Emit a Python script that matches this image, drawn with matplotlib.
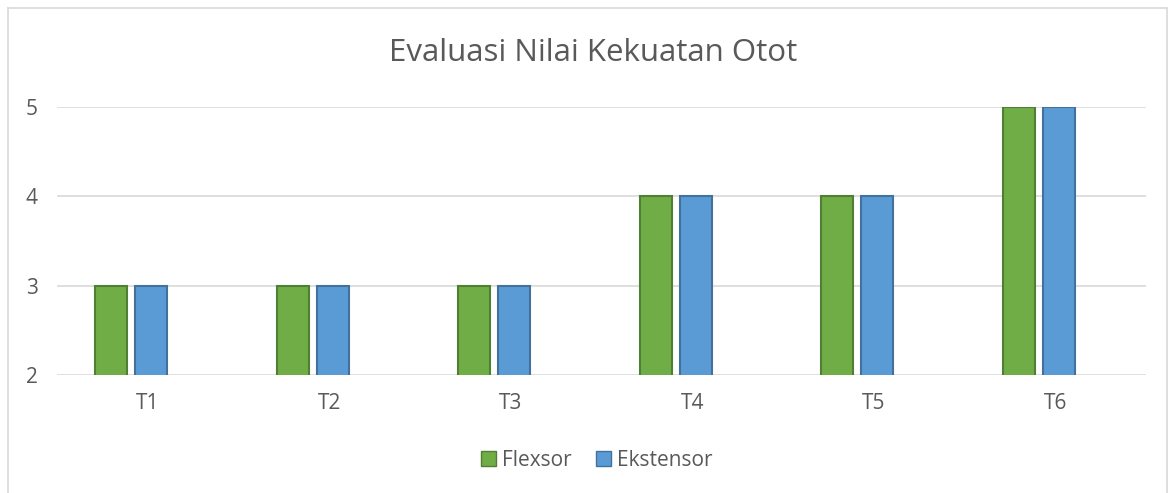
import matplotlib
matplotlib.use("Agg")
import matplotlib.pyplot as plt
import numpy as np
from matplotlib.patches import Patch
from matplotlib.lines import Line2D

categories = ["T1", "T2", "T3", "T4", "T5", "T6"]
flexsor = [3, 3, 3, 4, 4, 5]
ekstensor = [3, 3, 3, 4, 4, 5]
yticks = [2, 3, 4, 5]
title = "Evaluasi Nilai Kekuatan Otot"

plt.rcParams['font.family'] = ['Open Sans', 'DejaVu Sans']
txt = "#595959"

fig = plt.figure(figsize=(11.75, 4.93), dpi=100)
ax = fig.add_axes([57/1175, 1-375/493, (1146-57)/1175, (375-107)/493])

x = np.arange(len(categories))
w = 0.177
ax.bar(x - 0.201, flexsor, width=w, bottom=0, color="#70AD47", edgecolor="#507E32", linewidth=1.5, zorder=3)
ax.bar(x + 0.019, ekstensor, width=w, bottom=0, color="#5B9BD5", edgecolor="#41719C", linewidth=1.5, zorder=3)

ax.set_xlim(-0.5, len(categories) - 0.5)
ax.set_ylim(2, 5)
ax.set_yticks(yticks)
ax.set_xticks(x)
ax.set_xticklabels(categories)
ax.tick_params(length=0, labelsize=15, colors=txt)
ax.tick_params(axis='y', pad=14)
ax.tick_params(axis='x', pad=13)
ax.grid(axis='y', color="#D9D9D9", linewidth=1.2, zorder=0)
for s in ax.spines.values():
    s.set_visible(False)

fig.text(0.505, 1-53/493, title, ha='center', va='center', fontsize=22.5, color=txt)

handles = [Patch(facecolor="#70AD47", edgecolor="#507E32", label="Flexsor"),
           Patch(facecolor="#5B9BD5", edgecolor="#41719C", label="Ekstensor")]
fig.legend(handles=handles, loc='center', bbox_to_anchor=(0.508, 1-460/493), ncol=2, frameon=False,
           fontsize=15, handlelength=0.7, handleheight=0.7, handletextpad=0.3, columnspacing=1.2,
           labelcolor=txt)

# outer chart border
bc = "#D9D9D9"
fig.add_artist(Line2D([8/1175, 8/1175], [0, 1-8/493], color=bc, lw=1.2, transform=fig.transFigure))
fig.add_artist(Line2D([8/1175, 1167/1175], [1-8/493, 1-8/493], color=bc, lw=1.2, transform=fig.transFigure))
fig.add_artist(Line2D([1167/1175, 1167/1175], [0, 1-8/493], color=bc, lw=1.2, transform=fig.transFigure))

fig.savefig("out.png", dpi=100)
